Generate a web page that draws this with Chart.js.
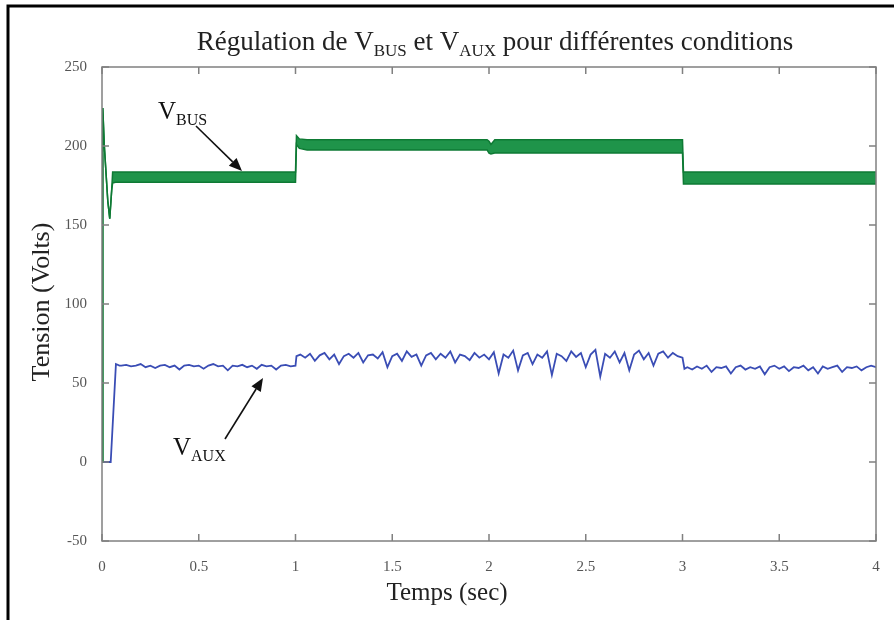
<!DOCTYPE html>
<html>
<head>
<meta charset="utf-8">
<script src="https://cdn.jsdelivr.net/npm/chart.js@4.4.1/dist/chart.umd.min.js"></script>
<style>
  body { margin: 0; background: #fff; }
  #wrap { width: 894px; height: 620px; }
</style>
</head>
<body>
<div id="wrap"><canvas id="chart" width="894" height="620"></canvas></div>
<script>
// V_BUS : envelope of the ripple band (upper / lower)
const vbusTime = [0, 0.004, 0.012, 0.03, 0.04, 0.05, 0.055, 0.07, 0.99, 1.0, 1.005, 1.02, 1.06, 1.99, 2.0, 2.01, 2.03, 2.99, 3.0, 3.005, 3.02, 4.0];
const vbusHigh = [0, 224, 200, 165, 154, 172, 183.5, 183.5, 183.5, 183.5, 206.5, 204.5, 204, 204, 203, 201, 204, 204, 204, 183.5, 183.5, 183.5];
const vbusLow  = [0, 224, 200, 165, 154, 172, 176.5, 177, 177, 177, 201, 198.5, 197.5, 197.5, 195.5, 195, 195.5, 195.5, 195.5, 176, 176, 176];

// V_AUX : noisy trace
const vauxTime = [
  0, 0.045, 0.072, 0.09,
  0.1, 0.125, 0.15, 0.175, 0.2, 0.225, 0.25, 0.275, 0.3, 0.325, 0.35, 0.375, 0.4, 0.425, 0.45, 0.475,
  0.5, 0.525, 0.55, 0.575, 0.6, 0.625, 0.65, 0.675, 0.7, 0.725, 0.75, 0.775, 0.8, 0.825, 0.85, 0.875,
  0.9, 0.925, 0.95, 0.975, 1.0,
  1.005, 1.025, 1.05, 1.075, 1.1, 1.125, 1.15, 1.175, 1.2, 1.225, 1.25, 1.275, 1.3, 1.325, 1.35, 1.375,
  1.4, 1.425, 1.45, 1.475, 1.5, 1.525, 1.55, 1.575, 1.6, 1.625, 1.65, 1.675, 1.7, 1.725, 1.75, 1.775,
  1.8, 1.825, 1.85, 1.875, 1.9, 1.925, 1.95, 1.975, 2.0, 2.025, 2.05, 2.075, 2.1, 2.125, 2.15, 2.175,
  2.2, 2.225, 2.25, 2.275, 2.3, 2.325, 2.35, 2.375, 2.4, 2.425, 2.45, 2.475, 2.5, 2.525, 2.55, 2.575,
  2.6, 2.625, 2.65, 2.675, 2.7, 2.725, 2.75, 2.775, 2.8, 2.825, 2.85, 2.875, 2.9, 2.925, 2.95, 2.975,
  3.0, 3.01,
  3.025, 3.05, 3.075, 3.1, 3.125, 3.15, 3.175, 3.2, 3.225, 3.25, 3.275, 3.3, 3.325, 3.35, 3.375, 3.4,
  3.425, 3.45, 3.475, 3.5, 3.525, 3.55, 3.575, 3.6, 3.625, 3.65, 3.675, 3.7, 3.725, 3.75, 3.775, 3.8,
  3.825, 3.85, 3.875, 3.9, 3.925, 3.95, 3.975, 4.0
];
const vauxVolts = [
  0, 0, 62, 61,
  61, 61.5, 60.5, 61, 62, 60, 61, 59.5, 61, 61.5, 60, 61, 58.5, 61, 61.5, 60.5,
  61, 59, 61, 62, 60.5, 61, 58, 61, 60.5, 61.5, 60, 61, 59, 61.5, 60.5, 61,
  58.5, 61, 61.5, 60.5, 61,
  67, 68, 66, 68.5, 64, 67.5, 69, 65, 68, 62, 67, 68.5, 66, 69, 63, 67.5,
  68, 65.5, 69.5, 60, 67, 68.5, 64, 70, 66.5, 68, 61, 67.5, 69, 65, 68.5, 66,
  70, 63, 68, 67, 64.5, 69, 66, 68, 65, 69.5, 56, 68, 66, 70.5, 58, 67.5,
  69, 62, 68, 66, 70, 55, 68.5, 67, 64, 70, 66.5, 69, 60, 68, 71, 54,
  68.5, 66, 70, 63, 69, 58, 68, 70.5, 65, 69, 61, 68.5, 70, 66, 69, 67,
  66, 59,
  60, 58.5, 60.5, 59, 61, 57, 60, 59.5, 60.5, 56, 60, 61, 58.5, 60, 59, 60.5,
  55.5, 60, 61, 59, 60.5, 57.5, 60, 59.5, 61, 58, 60, 56, 60.5, 59, 60, 61,
  57, 60, 59.5, 60.5, 58, 60, 61, 60
];

const xTicks = [0, 0.5, 1, 1.5, 2, 2.5, 3, 3.5, 4];
const yTicks = [-50, 0, 50, 100, 150, 200, 250];

const SERIF = '"Liberation Serif", "DejaVu Serif", serif';
const greenLine = '#0e7a34';
const greenFill = '#1f944a';
const blueLine = '#3a4db5';

// draws text with subscript parts, centred on x
function drawSubText(ctx, parts, x, y, size, align) {
  const subSize = Math.round(size * 0.62);
  let width = 0;
  parts.forEach(p => {
    ctx.font = (p.sub ? subSize : size) + 'px ' + SERIF;
    p.w = ctx.measureText(p.t).width;
    width += p.w;
  });
  let cx = align === 'left' ? x : x - width / 2;
  ctx.textBaseline = 'alphabetic';
  ctx.textAlign = 'left';
  parts.forEach(p => {
    ctx.font = (p.sub ? subSize : size) + 'px ' + SERIF;
    ctx.fillText(p.t, cx, p.sub ? y + size * 0.22 : y);
    cx += p.w;
  });
}

function drawArrow(ctx, x1, y1, x2, y2) {
  const ang = Math.atan2(y2 - y1, x2 - x1);
  const len = 13, half = 5.5;
  const bx = x2 - len * Math.cos(ang), by = y2 - len * Math.sin(ang);
  ctx.strokeStyle = '#111';
  ctx.fillStyle = '#111';
  ctx.lineWidth = 1.6;
  ctx.beginPath();
  ctx.moveTo(x1, y1);
  ctx.lineTo(bx, by);
  ctx.stroke();
  ctx.beginPath();
  ctx.moveTo(x2, y2);
  ctx.lineTo(bx + half * Math.sin(ang), by - half * Math.cos(ang));
  ctx.lineTo(bx - half * Math.sin(ang), by + half * Math.cos(ang));
  ctx.closePath();
  ctx.fill();
}

// matlab style frame, inner ticks, titles and annotations
const decorPlugin = {
  id: 'decor',
  afterDraw(chart) {
    const ctx = chart.ctx;
    const a = chart.chartArea;
    const xs = chart.scales.x, ys = chart.scales.y;
    ctx.save();

    ctx.strokeStyle = '#808080';
    ctx.lineWidth = 1.5;
    ctx.strokeRect(a.left, a.top, a.right - a.left, a.bottom - a.top);
    ctx.beginPath();
    xTicks.forEach(v => {
      const px = xs.getPixelForValue(v);
      ctx.moveTo(px, a.bottom); ctx.lineTo(px, a.bottom - 7);
      ctx.moveTo(px, a.top); ctx.lineTo(px, a.top + 7);
    });
    yTicks.forEach(v => {
      const py = ys.getPixelForValue(v);
      ctx.moveTo(a.left, py); ctx.lineTo(a.left + 7, py);
      ctx.moveTo(a.right, py); ctx.lineTo(a.right - 7, py);
    });
    ctx.stroke();

    ctx.fillStyle = '#222';
    drawSubText(ctx, [
      { t: 'Régulation de V' }, { t: 'BUS', sub: true },
      { t: ' et V' }, { t: 'AUX', sub: true },
      { t: ' pour différentes conditions' }
    ], 495, 50, 27);

    ctx.font = '25px ' + SERIF;
    ctx.textAlign = 'center';
    ctx.textBaseline = 'middle';
    ctx.fillText('Temps (sec)', 447, 593);
    ctx.save();
    ctx.translate(42, 302);
    ctx.rotate(-Math.PI / 2);
    ctx.font = '26px ' + SERIF;
    ctx.fillText('Tension (Volts)', 0, 0);
    ctx.restore();

    ctx.fillStyle = '#111';
    drawSubText(ctx, [{ t: 'V' }, { t: 'BUS', sub: true }], 158, 119, 25, 'left');
    drawSubText(ctx, [{ t: 'V' }, { t: 'AUX', sub: true }], 173, 455, 25, 'left');
    drawArrow(ctx, 196, 126, 242, 171);
    drawArrow(ctx, 225, 439, 263, 378);

    // outer black frame of the figure
    ctx.strokeStyle = '#000';
    ctx.lineWidth = 3;
    ctx.beginPath();
    ctx.moveTo(8, 620); ctx.lineTo(8, 6); ctx.lineTo(894, 6);
    ctx.stroke();
    ctx.restore();
  }
};

new Chart(document.getElementById('chart'), {
  type: 'line',
  data: {
    datasets: [
      {
        label: 'VBUS haut',
        data: vbusTime.map((t, i) => ({ x: t, y: vbusHigh[i] })),
        borderColor: greenLine, borderWidth: 1.5,
        pointRadius: 0, fill: false, tension: 0
      },
      {
        label: 'VBUS bas',
        data: vbusTime.map((t, i) => ({ x: t, y: vbusLow[i] })),
        borderColor: greenLine, borderWidth: 1.5,
        backgroundColor: greenFill,
        pointRadius: 0, fill: '-1', tension: 0
      },
      {
        label: 'VAUX',
        data: vauxTime.map((t, i) => ({ x: t, y: vauxVolts[i] })),
        borderColor: blueLine, borderWidth: 1.8,
        pointRadius: 0, fill: false, tension: 0
      }
    ]
  },
  options: {
    responsive: false,
    animation: false,
    layout: { padding: { top: 67, right: 18, bottom: 0, left: 0 } },
    plugins: { legend: { display: false }, tooltip: { enabled: false } },
    scales: {
      x: {
        type: 'linear', min: 0, max: 4,
        afterBuildTicks: s => { s.ticks = xTicks.map(v => ({ value: v })); },
        afterFit: s => { s.height = 79; },
        grid: { display: false },
        border: { display: false },
        ticks: { padding: 9, color: '#555', font: { family: SERIF, size: 15 }, maxRotation: 0,
                 callback: v => String(v) }
      },
      y: {
        min: -50, max: 250,
        afterBuildTicks: s => { s.ticks = yTicks.map(v => ({ value: v })); },
        afterFit: s => { s.width = 102; },
        grid: { display: false },
        border: { display: false },
        ticks: { padding: 7, color: '#555', font: { family: SERIF, size: 15 } }
      }
    }
  },
  plugins: [decorPlugin]
});
</script>
</body>
</html>
